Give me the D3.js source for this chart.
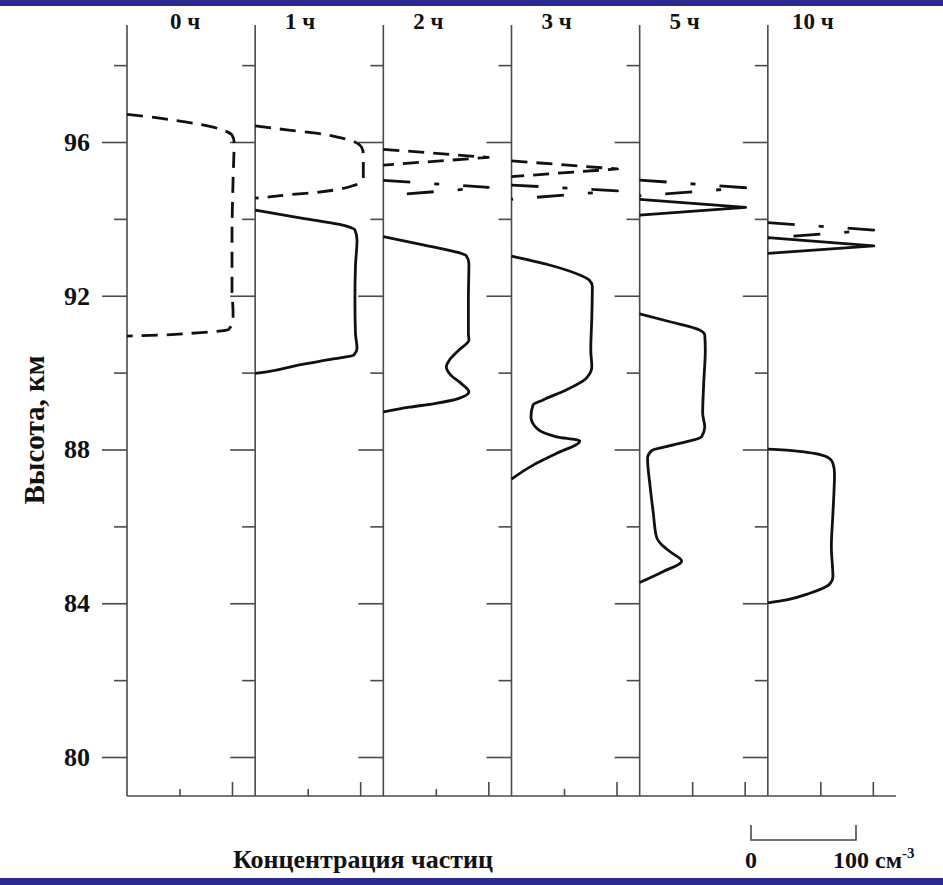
<!DOCTYPE html>
<html>
<head>
<meta charset="utf-8">
<script src="https://cdn.jsdelivr.net/npm/d3@7"></script>
<style>
  body { margin: 0; background: #fff; }
  svg { display: block; }
  text { font-family: "Liberation Serif", "Times New Roman", serif; font-weight: bold; fill: #111; }
</style>
</head>
<body>
<svg id="chart" width="943" height="885"></svg>
<script>
// panels: time after the start
const hours = ["0 ч", "1 ч", "2 ч", "3 ч", "5 ч", "10 ч"];
const altMajor = [80, 84, 88, 92, 96];
const altMinor = [82, 86, 90, 94, 98];
const concTicks = [50, 100];

// profiles as [concentration, cm^-3 ; altitude, km], top to bottom
const dash0h = [[0, 96.72], [31, 96.62], [80, 96.4], [95, 96.27], [100, 96.18], [102, 96.0], [101, 95.0], [100, 93.5],
  [100, 92.1], [101, 91.6], [101, 91.37], [97, 91.13], [85, 91.07], [59, 91.02], [37, 90.98], [12, 90.96], [0, 90.95]];
const dash1h = [[0, 96.42], [32, 96.31], [58, 96.23], [83, 96.1], [95, 96.0], [101, 95.88], [103, 95.7], [103, 95.4],
  [103, 95.1], [100, 94.93], [95, 94.88], [80, 94.77], [55, 94.68], [29, 94.62], [9, 94.56], [0, 94.54]];
const dash2h = [[0, 95.81], [100, 95.6], [0, 95.4]];
const dash3h = [[0, 95.51], [101, 95.3], [0, 95.1]];

const dot2h = [[0, 95.0], [100, 94.82], [0, 94.6]];
const dot3h = [[0, 94.88], [101, 94.73], [0, 94.51]];
const dot5h = [[0, 95.01], [101, 94.81], [0, 94.6]];
const dot10h = [[0, 93.9], [101, 93.71], [0, 93.5]];

const solid1h = [[0, 94.23], [44, 94.02], [87, 93.81], [95, 93.71], [97, 93.45], [95.5, 92.76], [95, 91.89], [95.5, 91.03],
  [97, 90.63], [94, 90.46], [73, 90.35], [42, 90.2], [11, 90.02], [0, 89.98]];
const solid2h = [[0, 93.54], [39, 93.32], [72, 93.12], [79, 93.04], [81.5, 92.84], [81, 91.89], [81, 91.02], [81.5, 90.85],
  [72, 90.59], [63, 90.33], [60, 90.15], [64, 89.94], [74, 89.72], [81.5, 89.5], [72, 89.33], [50, 89.2], [25, 89.1], [0, 88.98]];
const solid3h = [[0, 93.03], [36, 92.8], [65, 92.54], [74, 92.41], [77, 92.24], [76.5, 91.46], [75.5, 90.59], [76.5, 90.15],
  [71, 89.85], [52, 89.55], [30, 89.29], [20.5, 89.16], [18.5, 88.85], [24, 88.55], [43, 88.33], [65, 88.22], [43, 87.9],
  [21, 87.6], [0, 87.23]];
const spike5h = [[0, 94.51], [101, 94.3], [0, 94.1]];
const solid5h = [[0, 91.53], [28, 91.33], [57, 91.11], [62, 90.98], [62.5, 90.59], [61, 89.72], [60, 88.94], [62, 88.59],
  [59, 88.33], [32, 88.12], [11.5, 87.97], [7.5, 87.77], [10, 87.03], [13, 86.34], [16, 85.73], [21, 85.52], [30, 85.32],
  [40, 85.1], [22, 84.82], [0, 84.54]];
const spike10h = [[0, 93.51], [101, 93.3], [0, 93.1]];
const solid10h = [[0, 88.01], [27.5, 87.96], [56, 87.81], [62, 87.64], [63.5, 87.38], [62, 86.34], [60.5, 85.47], [62, 84.69],
  [59, 84.5], [40, 84.26], [18, 84.09], [0, 84.01]];

const layers = [
  { panel: 0, style: "dash", smooth: true, pts: dash0h },
  { panel: 1, style: "dash", smooth: true, pts: dash1h },
  { panel: 2, style: "dash", smooth: false, pts: dash2h },
  { panel: 3, style: "dash", smooth: false, pts: dash3h },
  { panel: 2, style: "dashdot", smooth: false, pts: dot2h },
  { panel: 3, style: "dashdot", smooth: false, pts: dot3h },
  { panel: 4, style: "dashdot", smooth: false, pts: dot5h },
  { panel: 5, style: "dashdot", smooth: false, pts: dot10h },
  { panel: 1, style: "solid", smooth: true, pts: solid1h },
  { panel: 2, style: "solid", smooth: true, pts: solid2h },
  { panel: 3, style: "solid", smooth: true, pts: solid3h },
  { panel: 4, style: "solid", smooth: false, pts: spike5h },
  { panel: 4, style: "solid", smooth: true, pts: solid5h },
  { panel: 5, style: "solid", smooth: false, pts: spike10h },
  { panel: 5, style: "solid", smooth: true, pts: solid10h }
];

const dashes = { dash: "16,9", dashdot: "27,24,5,24", solid: null };

const svg = d3.select("#chart");
const axisColor = "#4a4a4a";

// dark blue frame bands
svg.append("rect").attr("x", 0).attr("y", 0).attr("width", 943).attr("height", 6).attr("fill", "#2a2a92");
svg.append("rect").attr("x", 0).attr("y", 878).attr("width", 943).attr("height", 7).attr("fill", "#2a2a92");

const plotTop = 25;
const plotBottom = 796;

const xPanel = d3.scaleBand().domain(hours).range([127, 896]);
const y = d3.scaleLinear().domain([80, 96]).range([757, 142]);
const xConc = d3.scaleLinear().domain([0, 100]).range([0, 105]);

hours.forEach((h, i) => {
  const px = xPanel(h);
  const g = svg.append("g").attr("transform", `translate(${px},0)`);

  g.append("line")
    .attr("y1", plotTop).attr("y2", plotBottom)
    .attr("stroke", axisColor).attr("stroke-width", 1.6);

  const major = g.append("g").call(
    d3.axisLeft(y).tickValues(altMajor).tickSize(25).tickPadding(12)
      .tickFormat(i === 0 ? d3.format("d") : () => "")
  );
  const minor = g.append("g").call(
    d3.axisLeft(y).tickValues(altMinor).tickSize(13).tickFormat(() => "")
  );
  [major, minor].forEach(a => {
    a.select(".domain").remove();
    a.selectAll("line").attr("stroke", axisColor).attr("stroke-width", 1.6);
    a.selectAll("text").attr("font-size", 26).attr("fill", "#111")
      .style("font-family", "'Liberation Serif', serif").style("font-weight", "bold");
  });

  // concentration ticks on the bottom line
  concTicks.forEach(v => {
    const ax = g.append("g").attr("transform", `translate(0,${plotBottom})`)
      .call(d3.axisTop(xConc).tickValues([v]).tickSize(v === 100 || i >= 4 ? 14 : 7).tickFormat(() => ""));
    ax.select(".domain").remove();
    ax.selectAll("line").attr("stroke", axisColor).attr("stroke-width", 1.6);
  });

  g.append("text")
    .attr("x", i === 0 ? 58 : 45).attr("y", 29)
    .attr("text-anchor", "middle").attr("font-size", 23)
    .text(h);
});

// bottom line
svg.append("line")
  .attr("x1", 127).attr("x2", 896).attr("y1", plotBottom).attr("y2", plotBottom)
  .attr("stroke", axisColor).attr("stroke-width", 1.6);

// profiles
layers.forEach(l => {
  const px = xPanel(hours[l.panel]);
  const line = d3.line()
    .x(d => px + xConc(d[0]))
    .y(d => y(d[1]))
    .curve(l.smooth ? d3.curveMonotoneY : d3.curveLinear);
  svg.append("path")
    .attr("d", line(l.pts))
    .attr("fill", "none")
    .attr("stroke", "#111")
    .attr("stroke-width", 2.8)
    .attr("stroke-linejoin", "round")
    .attr("stroke-dasharray", dashes[l.style]);
});

// axis titles
svg.append("text")
  .attr("transform", "translate(44,430) rotate(-90)")
  .attr("text-anchor", "middle").attr("font-size", 29)
  .text("Высота, км");

svg.append("text")
  .attr("x", 363).attr("y", 868)
  .attr("text-anchor", "middle").attr("font-size", 26)
  .text("Концентрация частиц");

// scale bar: 100 cm^-3
const sb = svg.append("g").attr("transform", "translate(751,840)");
sb.append("path")
  .attr("d", `M0,-15V0H${xConc(100)}V-15`)
  .attr("fill", "none").attr("stroke", axisColor).attr("stroke-width", 1.6);
sb.append("text").attr("x", xConc(0)).attr("y", 28).attr("text-anchor", "middle").attr("font-size", 24).text("0");
const lbl = sb.append("text").attr("x", 82).attr("y", 28).attr("font-size", 24);
lbl.append("tspan").text("100 см");
lbl.append("tspan").attr("dy", -10).attr("font-size", 15).text("-3");
</script>
</body>
</html>
